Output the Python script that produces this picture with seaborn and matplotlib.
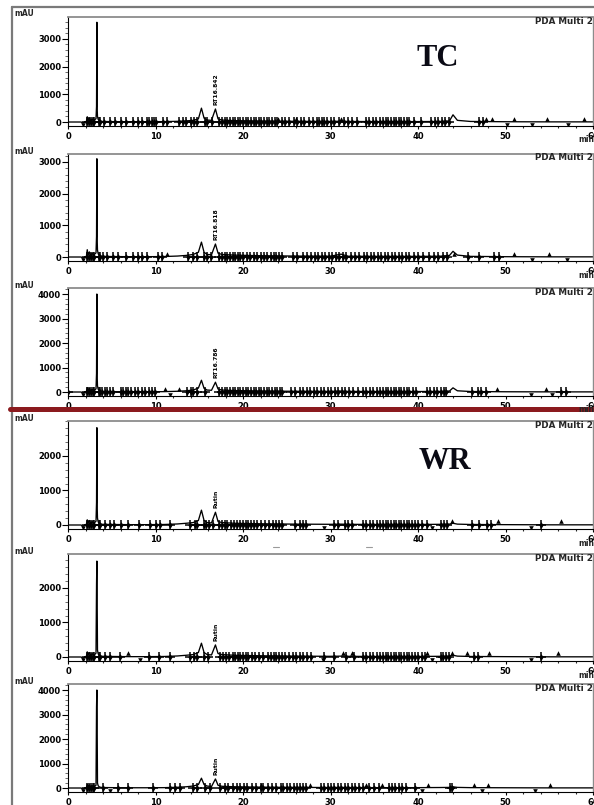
import numpy as np
import pandas as pd
import matplotlib
matplotlib.use("Agg")
import matplotlib.pyplot as plt
from matplotlib.lines import Line2D
from matplotlib.ticker import MultipleLocator
import seaborn as sns

# ---------------- data ----------------
trace_time = [0, 1.5, 1.7, 1.9, 2.1, 2.2, 2.3, 2.45, 2.6, 2.75,
              2.9, 3.05, 3.2, 3.26, 3.30, 3.33, 3.37, 3.45, 3.6, 3.9,
              5, 7, 9, 11, 12.5, 13.5, 14.3, 14.9, 15.25, 15.55,
              15.9, 16.4, 16.85, 17.15, 17.6, 19, 22, 26, 30, 31.2,
              32, 35, 40, 42.5, 43.6, 44.0, 44.5, 46, 50, 55, 60]

tc1_mau = [0, 0, -40, 0, 20, 190, 60, 150, 40, 110,
           50, 80, 120, 560, 3600, 520, 200, 90, 50, 20,
           15, 10, 10, 15, 25, 40, 60, 110, 500, 140,
           70, 60, 470, 110, 70, 50, 35, 25, 20, 30,
           20, 15, 15, 20, 40, 260, 60, 20, 10, 5, 5]
tc2_mau = [0, 0, -40, 0, 20, 230, 70, 160, 50, 120,
           60, 90, 130, 650, 3100, 600, 220, 100, 50, 20,
           15, 10, 10, 15, 30, 50, 80, 150, 470, 150,
           80, 70, 410, 120, 80, 60, 40, 30, 25, 90,
           25, 20, 20, 25, 50, 180, 60, 20, 10, 5, 5]
tc3_mau = [0, 0, -50, 0, 20, 180, 60, 150, 40, 110,
           50, 80, 130, 760, 4000, 700, 250, 110, 50, 20,
           15, 10, 10, 15, 30, 50, 80, 160, 480, 150,
           80, 70, 400, 120, 80, 60, 40, 30, 25, 40,
           25, 20, 20, 25, 40, 170, 50, 20, 10, 5, 5]
wr1_mau = [0, 0, -40, 0, 20, 150, 60, 130, 40, 100,
           50, 70, 110, 650, 2820, 600, 200, 90, 40, 20,
           15, 10, 10, 15, 30, 50, 70, 130, 430, 130,
           70, 60, 370, 100, 70, 50, 35, 25, 20, 25,
           20, 15, 15, 20, 25, 50, 25, 15, 10, 5, 5]
wr2_mau = [0, 0, -40, 0, 20, 150, 60, 130, 40, 100,
           50, 70, 110, 2100, 2780, 1800, 200, 90, 40, 20,
           15, 10, 10, 15, 30, 50, 70, 130, 400, 130,
           70, 60, 350, 100, 70, 50, 35, 25, 20, 25,
           20, 15, 15, 20, 25, 50, 25, 15, 10, 5, 5]
wr3_mau = [0, 0, -50, 0, 20, 150, 60, 130, 40, 100,
           50, 70, 110, 3300, 4000, 2800, 200, 90, 40, 20,
           15, 10, 10, 15, 30, 50, 80, 140, 400, 140,
           80, 60, 370, 110, 70, 50, 35, 25, 20, 25,
           20, 15, 15, 20, 25, 50, 25, 15, 10, 5, 5]

tc1_marks = [2.2, 2.4, 2.6, 2.8, 3.0, 3.5, 3.7, 4.1, 4.8, 5.4, 6.0, 6.6, 7.4, 8.0, 8.4, 9.0, 9.3, 9.6,
             9.8, 10.1, 10.8, 11.3, 12.7, 13.1, 13.5, 14.0, 14.4, 14.7, 15.6, 15.9, 16.4, 17.3, 17.6,
             17.9, 18.2, 18.5, 18.8, 19.1, 19.4, 19.7, 20.0, 20.3, 20.6, 20.9, 21.2, 21.5, 21.8, 22.1,
             22.4, 22.7, 23.0, 23.3, 23.6, 23.9, 24.4, 24.8, 25.3, 25.8, 26.2, 26.6, 27.0, 27.5, 28.0,
             28.4, 28.7, 29.0, 29.3, 29.6, 30.0, 30.4, 31.0, 31.5, 32.0, 32.5, 33.0, 34.1, 34.4, 34.8,
             35.2, 35.6, 36.0, 36.3, 36.6, 36.9, 37.2, 37.5, 37.8, 38.1, 38.4, 38.7, 39.0, 39.5, 40.3,
             41.5, 41.9, 42.3, 42.7, 43.1, 43.5, 47.0, 47.4]
tc1_up = [24.0, 26.0, 31.2, 47.8, 48.5, 51.0, 54.7, 59.0]
tc1_down = [1.7, 50.2, 53.0, 57.1]

tc2_marks = [2.2, 2.4, 2.6, 2.8, 3.0, 3.5, 3.7, 4.0, 4.5, 5.1, 5.7, 6.6, 7.4, 8.0, 8.5, 9.0, 10.3, 10.7,
             13.7, 14.3, 14.7, 15.5, 15.9, 16.3, 17.3, 17.6, 17.9, 18.2, 18.5, 18.8, 19.1, 19.4, 19.7,
             20.0, 20.4, 20.8, 21.2, 21.6, 22.0, 22.4, 22.7, 23.2, 23.5, 23.8, 24.1, 24.5, 25.7, 26.2,
             26.8, 27.3, 27.8, 28.2, 28.6, 29.0, 29.4, 29.8, 30.2, 30.6, 31.0, 31.4, 31.8, 32.3, 32.8,
             33.3, 33.8, 34.2, 34.6, 35.0, 35.4, 35.8, 36.2, 36.6, 37.0, 37.4, 37.8, 38.2, 38.6, 39.0,
             39.5, 40.0, 40.6, 41.3, 41.8, 42.3, 42.8, 43.3, 45.7, 47.0, 48.7, 49.3]
tc2_up = [11.3, 44.1, 51.0, 55.0]
tc2_down = [1.7, 53.0, 57.0]

tc3_marks = [0.0, 2.2, 2.4, 2.6, 2.8, 3.0, 3.5, 3.7, 3.9, 4.2, 4.5, 4.8, 5.1, 6.0, 6.3, 6.6, 6.9, 7.2,
             7.6, 8.0, 8.4, 8.8, 9.2, 9.6, 9.9, 13.6, 14.0, 14.3, 14.7, 15.6, 17.3, 17.6, 17.9, 18.2,
             18.5, 18.8, 19.1, 19.4, 19.7, 20.0, 20.3, 20.6, 20.9, 21.2, 21.5, 21.8, 22.1, 22.4, 22.7,
             23.0, 23.3, 23.6, 23.9, 24.2, 24.5, 25.5, 25.9, 26.5, 26.9, 27.3, 27.7, 28.1, 28.5, 28.9,
             29.3, 29.7, 30.1, 30.5, 30.9, 31.3, 31.7, 32.1, 32.6, 33.1, 33.7, 34.1, 34.5, 34.9, 35.3,
             35.7, 36.0, 36.3, 36.6, 36.9, 37.2, 37.5, 37.8, 38.1, 38.4, 38.7, 39.0, 39.4, 39.8, 41.0,
             41.4, 41.8, 42.2, 42.6, 43.0, 43.2, 46.2, 46.8, 47.2, 47.8, 56.3, 56.9]
tc3_up = [11.1, 12.7, 49.0, 54.6]
tc3_down = [1.7, 11.6, 52.9, 55.3]

wr1_marks = [2.2, 2.4, 2.6, 2.8, 3.0, 3.5, 3.7, 4.2, 4.8, 5.2, 6.1, 6.9, 8.1, 9.4, 10.1, 10.5, 11.6,
             13.9, 14.5, 14.7, 15.5, 15.8, 16.1, 16.6, 17.3, 17.6, 17.9, 18.2, 18.6, 19.0, 19.3, 19.6,
             20.0, 20.3, 20.6, 20.9, 21.2, 21.6, 22.0, 22.5, 23.0, 23.4, 23.8, 24.1, 24.4, 25.9, 26.5,
             26.9, 27.2, 30.4, 30.8, 31.6, 32.0, 32.5, 33.7, 34.1, 34.5, 34.9, 35.3, 35.7, 36.0, 36.3,
             36.6, 36.9, 37.2, 37.5, 37.8, 38.1, 38.4, 38.7, 39.0, 39.3, 39.6, 40.0, 40.4, 41.0, 42.6,
             43.0, 43.3, 46.2, 47.0, 47.9, 48.3, 54.1]
wr1_up = [43.9, 49.1, 56.3]
wr1_down = [1.7, 29.3, 41.6, 52.9]

wr2_marks = [2.2, 2.4, 2.6, 2.8, 3.0, 3.5, 3.7, 4.2, 4.8, 5.9, 9.3, 10.4, 11.6, 13.9, 14.4, 14.7, 15.5,
             16.0, 17.4, 17.7, 18.0, 18.4, 18.8, 19.1, 19.4, 19.7, 20.0, 20.3, 20.6, 21.0, 21.4, 21.8,
             22.3, 22.8, 23.2, 23.5, 23.8, 24.1, 24.4, 24.8, 25.2, 25.7, 26.1, 26.5, 26.9, 27.3, 27.8,
             29.3, 30.4, 31.8, 32.7, 33.7, 34.1, 34.5, 34.9, 35.3, 35.7, 36.0, 36.3, 36.6, 36.9, 37.2,
             37.5, 37.8, 38.1, 38.4, 38.7, 39.0, 39.3, 39.6, 40.0, 40.4, 40.8, 42.6, 42.9, 43.2, 43.5,
             46.4, 46.8, 54.1]
wr2_up = [6.8, 31.4, 32.5, 41.0, 43.9, 45.6, 48.1, 56.0]
wr2_down = [1.7, 8.2, 29.1, 41.6, 52.9]

wr3_marks = [2.2, 2.4, 2.6, 2.8, 3.0, 4.0, 5.7, 6.9, 9.7, 11.6, 12.2, 12.8, 14.3, 14.7, 15.6, 16.2,
             17.4, 17.9, 18.3, 18.8, 19.3, 19.7, 20.1, 20.5, 21.0, 21.5, 22.0, 22.3, 22.8, 23.3, 23.8,
             24.3, 24.6, 25.0, 25.4, 25.8, 26.2, 26.5, 26.9, 27.2, 28.9, 29.3, 29.7, 30.1, 30.4, 30.8,
             31.2, 31.6, 32.0, 32.4, 32.8, 33.2, 33.7, 34.4, 35.0, 35.5, 36.7, 37.0, 37.4, 37.8, 38.2,
             38.6, 39.6, 43.6, 43.9]
wr3_up = [22.1, 27.6, 34.0, 35.9, 41.1, 46.4, 48.0, 55.1]
wr3_down = [1.7, 4.8, 40.5, 47.3, 53.4]

peak_labels = ["RT16.842", "RT16.818", "RT16.786", "Rutin", "Rutin", "Rutin"]
label_peak_time = 16.95
label_peak_mau = [470, 410, 400, 370, 350, 370]

yticks_tc12 = [0, 1000, 2000, 3000]
yticks_4000 = [0, 1000, 2000, 3000, 4000]
yticks_wr12 = [0, 1000, 2000]
xticks_min = [0, 10, 20, 30, 40, 50, 60]
group_labels = ["TC", "WR"]

# ---------------- layout ----------------
W, H = 594, 805
panels = [
    dict(mau=tc1_mau, marks=tc1_marks, up=tc1_up, down=tc1_down, yt=yticks_tc12, T=17, B=126, ylo=-144, yhi=3790),
    dict(mau=tc2_mau, marks=tc2_marks, up=tc2_up, down=tc2_down, yt=yticks_tc12, T=154, B=261, ylo=-126, yhi=3250),
    dict(mau=tc3_mau, marks=tc3_marks, up=tc3_up, down=tc3_down, yt=yticks_4000, T=288, B=396, ylo=-163, yhi=4245),
    dict(mau=wr1_mau, marks=wr1_marks, up=wr1_up, down=wr1_down, yt=yticks_wr12, T=421, B=529, ylo=-116, yhi=3014),
    dict(mau=wr2_mau, marks=wr2_marks, up=wr2_up, down=wr2_down, yt=yticks_wr12, T=554, B=661, ylo=-116, yhi=2985),
    dict(mau=wr3_mau, marks=wr3_marks, up=wr3_up, down=wr3_down, yt=yticks_4000, T=684, B=792, ylo=-163, yhi=4245),
]

sns.set_theme(style="ticks")
plt.rcParams['font.family'] = ['DejaVu Sans']
plt.rcParams['font.weight'] = 'bold'

fig = plt.figure(figsize=(W / 100, H / 100), dpi=100)
fig.patch.set_facecolor('white')

def fy(py):
    return 1 - py / H

for i, p in enumerate(panels):
    T, B = p['T'], p['B']
    ax = fig.add_axes([68 / W, fy(B), (593 - 68) / W, (B - T) / H])
    ax.set_facecolor('white')
    ppu = (B - T) / (p['yhi'] - p['ylo'])

    df = pd.DataFrame({'time': trace_time, 'mAU': p['mau']})
    sns.lineplot(data=df, x='time', y='mAU', ax=ax, color='black', lw=0.95,
                 estimator=None, sort=False)
    mk = pd.DataFrame({'t': p['marks'], 'y': [0.0] * len(p['marks'])})
    sns.scatterplot(data=mk, x='t', y='y', ax=ax, marker='+', s=42, color='black',
                    linewidth=1.1, legend=False, zorder=3)
    sns.scatterplot(data=mk, x='t', y='y', ax=ax, marker='d', s=12, color='black',
                    linewidth=0, legend=False, zorder=3)
    up = pd.DataFrame({'t': p['up'], 'y': [3.5 / ppu] * len(p['up'])})
    sns.scatterplot(data=up, x='t', y='y', ax=ax, marker='^', s=11, color='black',
                    linewidth=0, legend=False, zorder=3)
    dn = pd.DataFrame({'t': p['down'], 'y': [-3.0 / ppu] * len(p['down'])})
    sns.scatterplot(data=dn, x='t', y='y', ax=ax, marker='v', s=11, color='black',
                    linewidth=0, legend=False, zorder=3)

    ax.text(label_peak_time, label_peak_mau[i] + 4 / ppu, peak_labels[i], rotation=90,
            fontsize=4.3, fontweight='bold', ha='center', va='bottom', color='black')

    ax.set_xlim(0, 60)
    ax.set_ylim(p['ylo'], p['yhi'])
    ax.set_xticks(xticks_min)
    ax.xaxis.set_minor_locator(MultipleLocator(2))
    ax.set_yticks(p['yt'])
    ax.yaxis.set_minor_locator(MultipleLocator(200))
    ax.set_xlabel('')
    ax.set_ylabel('')
    ax.tick_params(axis='y', which='major', direction='out', length=4, width=0.8, pad=1,
                   labelsize=6, colors='black')
    ax.tick_params(axis='y', which='minor', direction='out', length=2, width=0.6, color='#555555')
    ax.tick_params(axis='x', which='major', direction='out', length=2.5, width=0.8, pad=1.5,
                   labelsize=6, colors='black')
    ax.tick_params(axis='x', which='minor', direction='out', length=1.5, width=0.8)
    for lab in ax.get_xticklabels() + ax.get_yticklabels():
        lab.set_fontweight('bold')
    for s in ['left', 'bottom']:
        ax.spines[s].set_color('black')
        ax.spines[s].set_linewidth(0.8)
    ax.spines['top'].set_color('#8c8c8c')
    ax.spines['top'].set_linewidth(1.3)
    ax.spines['right'].set_color('#8c8c8c')
    ax.spines['right'].set_linewidth(1.0)

    fig.text(14 / W, fy(T - 3), 'mAU', fontsize=5.5, fontweight='bold', ha='left', va='center')
    fig.text(535 / W, fy(T + 4), 'PDA Multi 2', fontsize=6.3, fontweight='bold', ha='left', va='center')
    if i < 5:
        fig.text(578 / W, fy(B + 14), 'min', fontsize=5.5, fontweight='bold', ha='left', va='center')

# group titles
fig.text(438 / W, fy(59), group_labels[0], fontsize=22, fontweight='bold',
         family=['Liberation Serif', 'DejaVu Serif'], ha='center', va='center', color='#0a0a14')
fig.text(445 / W, fy(461), group_labels[1], fontsize=22, fontweight='bold',
         family=['Liberation Serif', 'DejaVu Serif'], ha='center', va='center', color='#0a0a14')

# scan frame and separator
fig.add_artist(Line2D([12 / W, 1.0], [fy(7), fy(7)], transform=fig.transFigure, color='#7a7a7a', lw=1.6))
fig.add_artist(Line2D([12 / W, 12 / W], [fy(7), 0.0], transform=fig.transFigure, color='#7a7a7a', lw=1.6))
fig.add_artist(Line2D([10 / W, 1.0], [fy(409), fy(409)], transform=fig.transFigure, color='#8b1a1e', lw=3.6))
for xd in (276, 369):
    fig.add_artist(Line2D([(xd - 3) / W, (xd + 3) / W], [fy(547), fy(547)], transform=fig.transFigure,
                          color='#9a9a9a', lw=0.8))

fig.savefig('out.png', dpi=100, facecolor='white')
